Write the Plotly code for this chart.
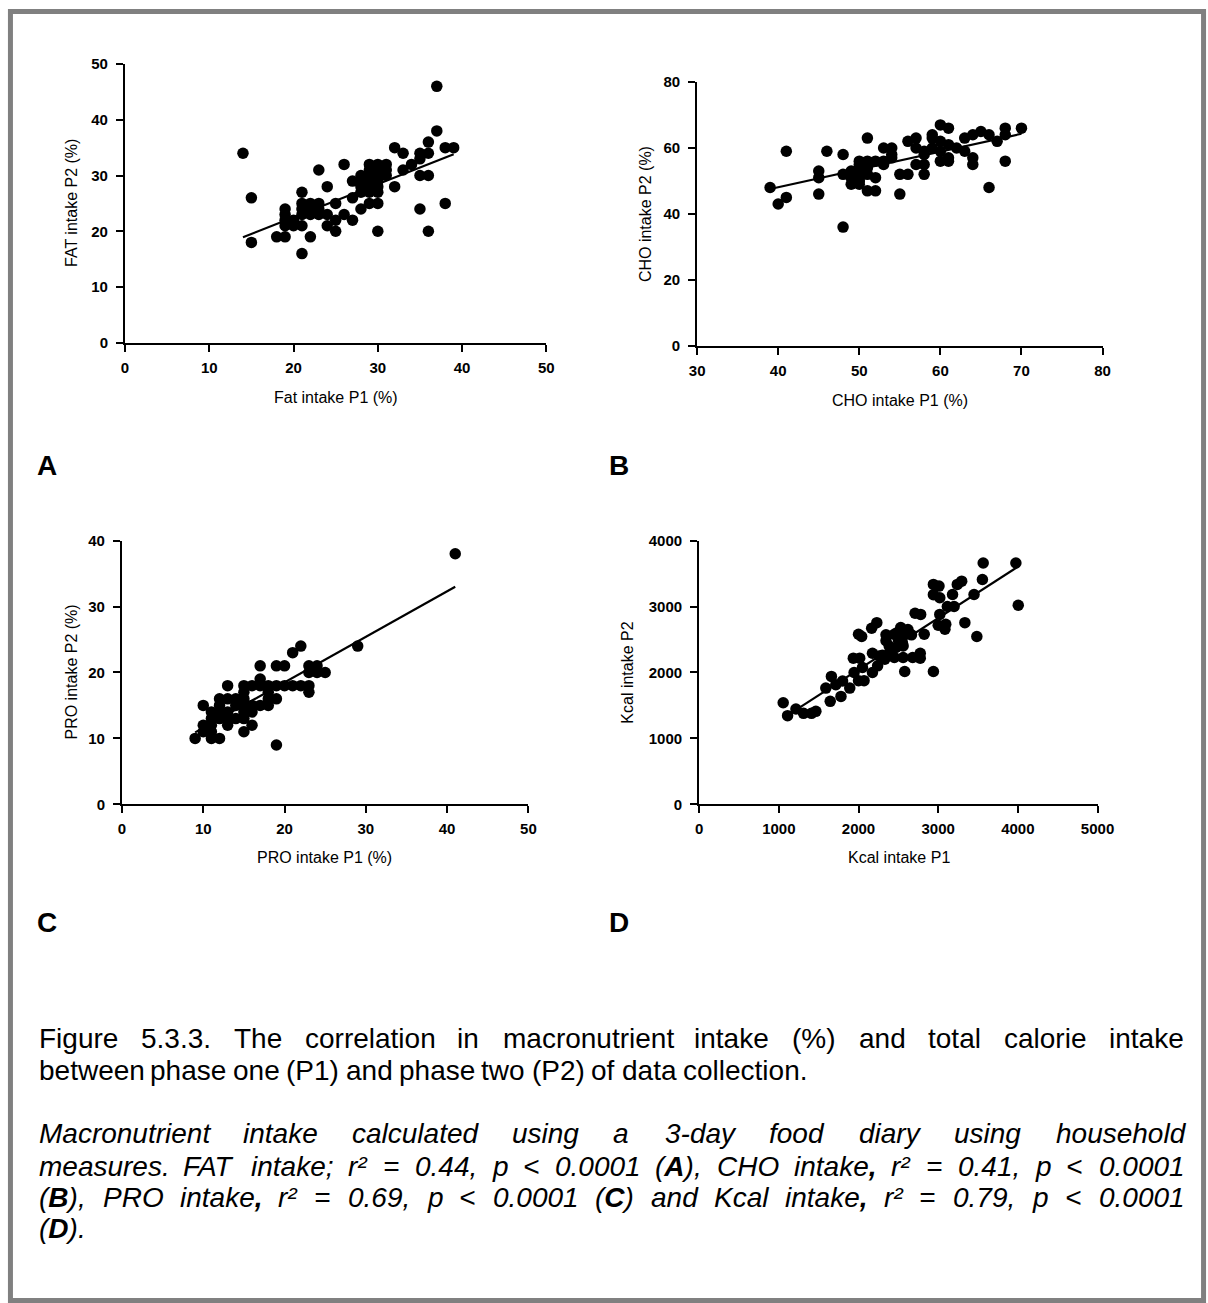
import plotly.graph_objects as go

# Measured page transform: screen = scale * (figure_px + 8)  (body margin + capture scale)
OFF = 8
SX, SY = 0.981, 0.988
PAGE_W, PAGE_H = 1208, 1303
W = int(round(PAGE_W / SX - OFF))
H = int(round(PAGE_H / SY - OFF))

# ---------------- data ----------------
fat_p1 = [14, 15, 15, 18, 19, 19, 19, 19, 19, 20, 20, 21, 21, 21, 21, 21, 21, 22, 22, 22, 22,
          23, 23, 23, 23, 24, 24, 24, 25, 25, 25, 26, 26, 27, 27, 27, 28, 28, 28, 28, 28,
          29, 29, 29, 29, 29, 29, 29, 30, 30, 30, 30, 30, 30, 30, 30, 31, 31, 31, 32, 32,
          33, 33, 34, 35, 35, 35, 35, 36, 36, 36, 36, 37, 37, 38, 38, 39]
fat_p2 = [34, 26, 18, 19, 19, 24, 23, 21, 22, 21, 22, 27, 25, 23, 21, 16, 24, 19, 25, 23, 24,
          31, 25, 23, 24, 28, 23, 21, 25, 22, 20, 32, 23, 22, 26, 29, 24, 30, 28, 29, 27,
          32, 29, 25, 27, 30, 31, 28, 32, 30, 28, 25, 20, 27, 31, 29, 32, 31, 30, 35, 28,
          34, 31, 32, 34, 30, 24, 33, 36, 34, 30, 20, 38, 46, 35, 25, 35]

cho_p1 = [39, 40, 41, 41, 45, 45, 45, 46, 48, 48, 48, 49, 49, 49, 49, 50, 50, 50, 50, 50, 50, 50,
          51, 51, 51, 51, 51, 52, 52, 52, 53, 53, 53, 54, 54, 54, 55, 55, 56, 56, 57, 57, 57,
          58, 58, 58, 58, 59, 59, 59, 60, 60, 60, 60, 61, 61, 61, 61, 62, 63, 63, 64, 64, 64,
          65, 66, 66, 67, 68, 68, 68, 70]
cho_p2 = [48, 43, 45, 59, 53, 51, 46, 59, 58, 52, 36, 53, 49, 51, 52, 56, 53, 49, 51, 55, 50, 54,
          63, 56, 47, 54, 52, 56, 51, 47, 60, 56, 55, 60, 57, 58, 52, 46, 62, 52, 63, 55, 60,
          58, 52, 55, 59, 64, 60, 63, 67, 62, 56, 59, 66, 61, 56, 57, 60, 63, 59, 64, 55, 57,
          65, 64, 48, 62, 66, 64, 56, 66]

pro_p1 = [9, 10, 10, 10, 11, 11, 11, 11, 11, 12, 12, 12, 12, 12, 13, 13, 13, 13, 13, 14, 14, 14,
          15, 15, 15, 15, 15, 15, 15, 16, 16, 16, 16, 17, 17, 17, 17, 18, 18, 18, 18, 19, 19,
          19, 19, 20, 20, 21, 21, 22, 22, 23, 23, 23, 23, 24, 24, 25, 29, 41]
pro_p2 = [10, 15, 12, 11, 10, 13, 12, 14, 11, 10, 16, 14, 13, 15, 18, 16, 12, 14, 13, 15, 13, 16,
          18, 17, 16, 15, 14, 11, 13, 18, 14, 12, 15, 21, 19, 18, 15, 18, 17, 15, 16, 21, 18,
          16, 9, 21, 18, 23, 18, 24, 18, 21, 20, 18, 17, 21, 20, 20, 24, 38]

kcal_p1 = [1055, 1110, 1215, 1310, 1410, 1465, 1590, 1645, 1660, 1715, 1780, 1800, 1890, 1935,
           1945, 2000, 2015, 2040, 2000, 2070, 2050, 2165, 2175, 2175, 2230, 2240, 2260, 2330,
           2345, 2345, 2385, 2450, 2450, 2470, 2530, 2550, 2560, 2560, 2580, 2595, 2665, 2680,
           2710, 2775, 2775, 2780, 2825, 2940, 2940, 2940, 3000, 3010, 3020, 3020, 3085, 3095,
           3115, 3200, 3180, 3240, 3295, 3335, 3450, 3485, 3555, 3565, 3975, 4005, 2400, 2500,
           2620, 2300, 2480]
kcal_p2 = [1540, 1345, 1445, 1380, 1380, 1410, 1763, 1562, 1940, 1813, 1637, 1870, 1763, 2217,
           2000, 2580, 2217, 2545, 1875, 1875, 2075, 2670, 2292, 2000, 2755, 2100, 2250, 2200,
           2570, 2480, 2400, 2580, 2227, 2378, 2680, 2453, 2403, 2227, 2015, 2580, 2570, 2227,
           2897, 2217, 2292, 2880, 2580, 3180, 3335, 2015, 2715, 3310, 3133, 2880, 2655, 2730,
           3000, 3000, 3183, 3335, 3385, 2755, 3183, 2545, 3410, 3660, 3660, 3020, 2330, 2500,
           2650, 2260, 2600]

# linear fits (slope, intercept)
fit_fat = (0.595, 10.6)
fit_cho = (0.54, 26.5)
fit_pro = (0.69, 4.7)
fit_kcal = (0.78, 484)

x_titles = ["Fat intake P1 (%)", "CHO intake P1 (%)", "PRO intake P1 (%)", "Kcal intake P1"]
y_titles = ["FAT intake P2 (%)", "CHO intake P2 (%)", "PRO intake P2 (%)", "Kcal intake P2"]
panel_letters = ["A", "B", "C", "D"]

x_ticks = [[0, 10, 20, 30, 40, 50], [30, 40, 50, 60, 70, 80], [0, 10, 20, 30, 40, 50],
           [0, 1000, 2000, 3000, 4000, 5000]]
y_ticks = [[0, 10, 20, 30, 40, 50], [0, 20, 40, 60, 80], [0, 10, 20, 30, 40],
           [0, 1000, 2000, 3000, 4000]]

caption_lines = [
    "Figure 5.3.3. The correlation in macronutrient intake (%) and total calorie intake",
    "between phase one (P1) and phase two (P2) of data collection.",
    "Macronutrient intake calculated using a 3-day food diary using household",
    "measures. FAT intake; r² = 0.44, p < 0.0001 (*A*), CHO intake*,* r² = 0.41, p < 0.0001",
    "(*B*), PRO intake*,* r² = 0.69, p < 0.0001 (*C*) and Kcal intake*,* r² = 0.79, p < 0.0001",
    "(*D*).",
]

# ---------------- layout geometry (reference pixels) ----------------
panels = [
    dict(x=fat_p1, y=fat_p2, fit=fit_fat, xd=(125, 547), yd=(63, 342),
         xt=(336, 397), yt=(72, 202), lab=(47, 465)),
    dict(x=cho_p1, y=cho_p2, fit=fit_cho, xd=(698, 1104), yd=(81, 345),
         xt=(901, 400), yt=(647, 213), lab=(620, 465)),
    dict(x=pro_p1, y=pro_p2, fit=fit_pro, xd=(122, 529), yd=(540, 804),
         xt=(325, 857), yt=(71, 672), lab=(47, 922)),
    dict(x=kcal_p1, y=kcal_p2, fit=fit_kcal, xd=(700, 1099), yd=(540, 804),
         xt=(900, 857), yt=(628, 672), lab=(620, 922)),
]

FONT = "Liberation Sans, Arial, Helvetica, sans-serif"


def fx(r):
    return (r / SX - OFF) / W


def fy(r):
    return 1 - (r / SY - OFF) / H


fig = go.Figure()
annotations = []
layout_axes = {}

for i, p in enumerate(panels):
    n = i + 1
    xa = "x" if n == 1 else f"x{n}"
    ya = "y" if n == 1 else f"y{n}"
    fig.add_trace(go.Scatter(x=p["x"], y=p["y"], mode="markers",
                             marker=dict(size=11.5, color="black", line=dict(width=0)),
                             xaxis=xa, yaxis=ya, showlegend=False, hoverinfo="skip",
                             cliponaxis=False))
    s, b = p["fit"]
    xs = [min(p["x"]), max(p["x"])]
    fig.add_trace(go.Scatter(x=xs, y=[s * v + b for v in xs], mode="lines",
                             line=dict(color="black", width=2.2),
                             xaxis=xa, yaxis=ya, showlegend=False, hoverinfo="skip"))
    xt = x_ticks[i]
    yt = y_ticks[i]
    common = dict(showline=True, linecolor="black", linewidth=2, ticks="outside",
                  ticklen=7, tickwidth=2, tickcolor="black", showgrid=False,
                  zeroline=False, fixedrange=True,
                  tickfont=dict(family=FONT, size=15, color="black", weight="bold"))
    layout_axes["xaxis" if n == 1 else f"xaxis{n}"] = dict(
        common, domain=[fx(p["xd"][0]), fx(p["xd"][1])], range=[xt[0], xt[-1]],
        tickvals=xt, anchor=ya, ticklabelstandoff=3)
    layout_axes["yaxis" if n == 1 else f"yaxis{n}"] = dict(
        common, domain=[fy(p["yd"][1]), fy(p["yd"][0])], range=[yt[0], yt[-1]],
        tickvals=yt, anchor=xa, ticklabelstandoff=5)
    annotations.append(dict(text=x_titles[i], x=fx(p["xt"][0]), y=fy(p["xt"][1]),
                            xref="paper", yref="paper", showarrow=False,
                            xanchor="center", yanchor="middle",
                            font=dict(family=FONT, size=16, color="black")))
    annotations.append(dict(text=y_titles[i], x=fx(p["yt"][0]), y=fy(p["yt"][1]),
                            xref="paper", yref="paper", showarrow=False, textangle=-90,
                            xanchor="center", yanchor="middle",
                            font=dict(family=FONT, size=16, color="black")))
    annotations.append(dict(text="<b>%s</b>" % panel_letters[i], x=fx(p["lab"][0]),
                            y=fy(p["lab"][1]), xref="paper", yref="paper", showarrow=False,
                            xanchor="center", yanchor="middle",
                            font=dict(family=FONT, size=28, color="black")))

# ---------------- caption (justified, word by word) ----------------
AR = {' ': 278, '%': 889, '(': 333, ')': 333, ',': 278, '-': 333, '.': 278, ':': 278, ';': 278,
      '<': 584, '=': 584, '>': 584, '²': 333,
      'A': 667, 'B': 667, 'C': 722, 'D': 722, 'E': 667, 'F': 611, 'G': 778, 'H': 722, 'I': 278,
      'K': 667, 'L': 556, 'M': 833, 'N': 722, 'O': 778, 'P': 667, 'R': 722, 'S': 667, 'T': 611,
      'a': 556, 'b': 556, 'c': 500, 'd': 556, 'e': 556, 'f': 278, 'g': 556, 'h': 556, 'i': 222,
      'j': 222, 'k': 500, 'l': 222, 'm': 833, 'n': 556, 'o': 556, 'p': 556, 'q': 556, 'r': 333,
      's': 500, 't': 278, 'u': 556, 'v': 500, 'w': 722, 'x': 500, 'y': 500, 'z': 500}
AB = {'A': 722, 'B': 722, 'C': 722, 'D': 722, ',': 278}


def parse_word(word, size):
    html = ""
    width = 0.0
    bold = False
    for ch in word:
        if ch == "*":
            bold = not bold
            continue
        w = AB.get(ch, AR.get(ch, 556)) if bold else AR.get(ch, 556)
        t = "&lt;" if ch == "<" else ch
        if bold:
            t = "<b>%s</b>" % t
        html += t
        width += w / 1000 * size
    return html, width


CAP_SIZE = 28                      # font size in figure px
LEFT, RIGHT = 38, 1183             # reference px
baselines = [1048, 1080, 1143, 1176, 1207, 1238]
justify = [True, False, True, True, True, False]
italic = [False, False, True, True, True, True]

left_f = LEFT / SX - OFF
right_f = RIGHT / SX - OFF
for li, line in enumerate(caption_lines):
    words = line.split(" ")
    parsed = [parse_word(w, CAP_SIZE) for w in words]
    total = sum(w for _, w in parsed)
    space = AR[' '] / 1000 * CAP_SIZE
    if justify[li] and len(words) > 1:
        gap = (right_f - left_f - total) / (len(words) - 1)
    else:
        gap = space
    xpos = left_f
    yc = baselines[li] / SY - OFF - 0.34 * CAP_SIZE
    for html, wdt in parsed:
        txt = "<i>%s</i>" % html if italic[li] else html
        annotations.append(dict(text=txt, x=xpos / W, y=1 - yc / H,
                                xref="paper", yref="paper", showarrow=False,
                                xanchor="left", yanchor="middle", borderpad=0,
                                font=dict(family=FONT, size=CAP_SIZE, color="black")))
        xpos += wdt + gap

fig.update_layout(
    width=W, height=H, margin=dict(l=0, r=0, t=0, b=0),
    paper_bgcolor="white", plot_bgcolor="white",
    annotations=annotations,
    shapes=[dict(type="rect", xref="paper", yref="paper",
                 x0=2.5 / W, x1=1 - 2.5 / W, y0=2.5 / H, y1=1 - 2.5 / H,
                 line=dict(color="#808080", width=5))],
    **layout_axes,
)

fig.write_html("out.html")
